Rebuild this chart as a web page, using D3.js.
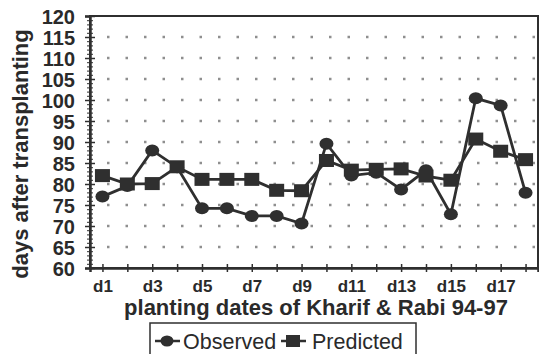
<!DOCTYPE html>
<html>
<head>
<meta charset="utf-8">
<script src="https://cdn.jsdelivr.net/npm/d3@7"></script>
<style>
	body { margin: 0; background: #fff; }
	svg { display: block; font-family: "Liberation Sans", Arial, sans-serif; }
</style>
</head>
<body>
<div id="chart"></div>
<script>
// data
const dates = ["d1", "d2", "d3", "d4", "d5", "d6", "d7", "d8", "d9", "d10", "d11", "d12", "d13", "d14", "d15", "d16", "d17", "d18"];
const observed = [77, 79.5, 88, 84, 74.2, 74.2, 72.4, 72.4, 70.6, 89.6, 82, 82.7, 78.7, 83.3, 72.8, 100.4, 98.7, 77.9];
const predicted = [82, 80, 80.1, 84.1, 81.1, 81.1, 81.1, 78.5, 78.4, 85.6, 83.3, 83.5, 83.6, 81.9, 80.9, 90.7, 87.8, 85.8];
const yTicks = [60, 65, 70, 75, 80, 85, 90, 95, 100, 105, 110, 115, 120];
const xLabels = ["d1", "d3", "d5", "d7", "d9", "d11", "d13", "d15", "d17"];

const W = 539, H = 354;
const margin = { top: 16, right: 1, bottom: 86, left: 90 };
const width = W - margin.left - margin.right;
const height = H - margin.top - margin.bottom;
const ink = "#2f2f2f";

const svg = d3.select("#chart")
	.append("svg")
	.attr("width", W)
	.attr("height", H);

const g = svg.append("g")
	.attr("transform", `translate(${margin.left},${margin.top})`);

// scales
const x = d3.scalePoint()
	.domain(dates)
	.range([0, width])
	.padding(0.5);

const y = d3.scaleLinear()
	.domain([60, 120])
	.range([height, 0]);

// dotted grid
g.selectAll(".grid")
	.data(yTicks.filter(t => t > 60 && t < 120))
	.enter()
	.append("line")
	.attr("class", "grid")
	.attr("x1", 17)
	.attr("x2", width)
	.attr("y1", d => y(d))
	.attr("y2", d => y(d))
	.attr("stroke", "#8f8f8f")
	.attr("stroke-width", 2.5)
	.attr("stroke-dasharray", "2.5 16");

// frame
g.append("rect")
	.attr("width", width)
	.attr("height", height)
	.attr("fill", "none")
	.attr("stroke", ink)
	.attr("stroke-width", 2);

// y axis (minor + major ticks crossing the line)
const yAxisMinor = g.append("g")
	.call(d3.axisLeft(y).tickValues(d3.range(60, 121, 1)).tickSize(3).tickFormat(""));
yAxisMinor.selectAll(".tick line").attr("x2", -3).attr("x1", 3).attr("stroke", ink).attr("stroke-width", 1);
yAxisMinor.select(".domain").remove();

const yAxis = g.append("g")
	.call(d3.axisLeft(y).tickValues(yTicks).tickSize(5).tickPadding(10));
yAxis.select(".domain").attr("stroke", ink).attr("stroke-width", 2.5);
yAxis.selectAll(".tick line").attr("x1", 5).attr("stroke", ink).attr("stroke-width", 1.5);
yAxis.selectAll("text")
	.attr("dy", "0.36em")
	.style("fill", "#2a2a2a")
	.style("font-size", "20px")
	.style("font-weight", 700);

// x axis
const xAxis = g.append("g")
	.attr("transform", `translate(0,${height})`)
	.call(d3.axisBottom(x).tickSize(4).tickPadding(8).tickFormat(d => xLabels.includes(d) ? d : ""));
xAxis.select(".domain").attr("stroke", ink).attr("stroke-width", 2.5);
xAxis.selectAll(".tick line").attr("y1", -4).attr("stroke", ink).attr("stroke-width", 1.5);
xAxis.selectAll("text")
	.style("fill", "#2a2a2a")
	.style("font-size", "17px")
	.style("font-weight", 700);

// series
const line = d3.line()
	.x((d, i) => x(dates[i]))
	.y(d => y(d));

g.append("path")
	.datum(observed)
	.attr("fill", "none")
	.attr("stroke", ink)
	.attr("stroke-width", 2.8)
	.attr("d", line);

g.selectAll(".obs")
	.data(observed)
	.enter()
	.append("ellipse")
	.attr("class", "obs")
	.attr("cx", (d, i) => x(dates[i]))
	.attr("cy", d => y(d))
	.attr("rx", 7)
	.attr("ry", 6)
	.attr("fill", ink);

g.append("path")
	.datum(predicted)
	.attr("fill", "none")
	.attr("stroke", ink)
	.attr("stroke-width", 2.8)
	.attr("d", line);

g.selectAll(".pred")
	.data(predicted)
	.enter()
	.append("rect")
	.attr("class", "pred")
	.attr("x", (d, i) => x(dates[i]) - 7.5)
	.attr("y", d => y(d) - 6.5)
	.attr("width", 15)
	.attr("height", 13)
	.attr("fill", ink);

// axis titles
svg.append("text")
	.attr("transform", "rotate(-90)")
	.attr("x", -154)
	.attr("y", 28)
	.attr("text-anchor", "middle")
	.style("fill", "#2a2a2a")
	.style("font-size", "22px")
	.style("font-weight", 700)
	.text("days after transplanting");

svg.append("text")
	.attr("x", 316)
	.attr("y", 315)
	.attr("text-anchor", "middle")
	.style("fill", "#2a2a2a")
	.style("font-size", "22px")
	.style("font-weight", 700)
	.text("planting dates of Kharif & Rabi 94-97");

// legend
const legend = svg.append("g");
legend.append("rect")
	.attr("x", 150)
	.attr("y", 323)
	.attr("width", 266)
	.attr("height", 45)
	.attr("fill", "#fff")
	.attr("stroke", ink)
	.attr("stroke-width", 1.5);

legend.append("line")
	.attr("x1", 155).attr("x2", 180)
	.attr("y1", 341).attr("y2", 341)
	.attr("stroke", ink).attr("stroke-width", 2.5);
legend.append("ellipse")
	.attr("cx", 167).attr("cy", 341)
	.attr("rx", 6.5).attr("ry", 5.5)
	.attr("fill", ink);
legend.append("text")
	.attr("x", 183).attr("y", 349)
	.style("font-size", "21.5px")
	.style("fill", "#2a2a2a")
	.text("Observed");

legend.append("line")
	.attr("x1", 281).attr("x2", 306)
	.attr("y1", 341).attr("y2", 341)
	.attr("stroke", ink).attr("stroke-width", 2.5);
legend.append("rect")
	.attr("x", 286).attr("y", 335)
	.attr("width", 14).attr("height", 12)
	.attr("fill", ink);
legend.append("text")
	.attr("x", 312).attr("y", 349)
	.style("font-size", "21.5px")
	.style("fill", "#2a2a2a")
	.text("Predicted");
</script>
</body>
</html>
